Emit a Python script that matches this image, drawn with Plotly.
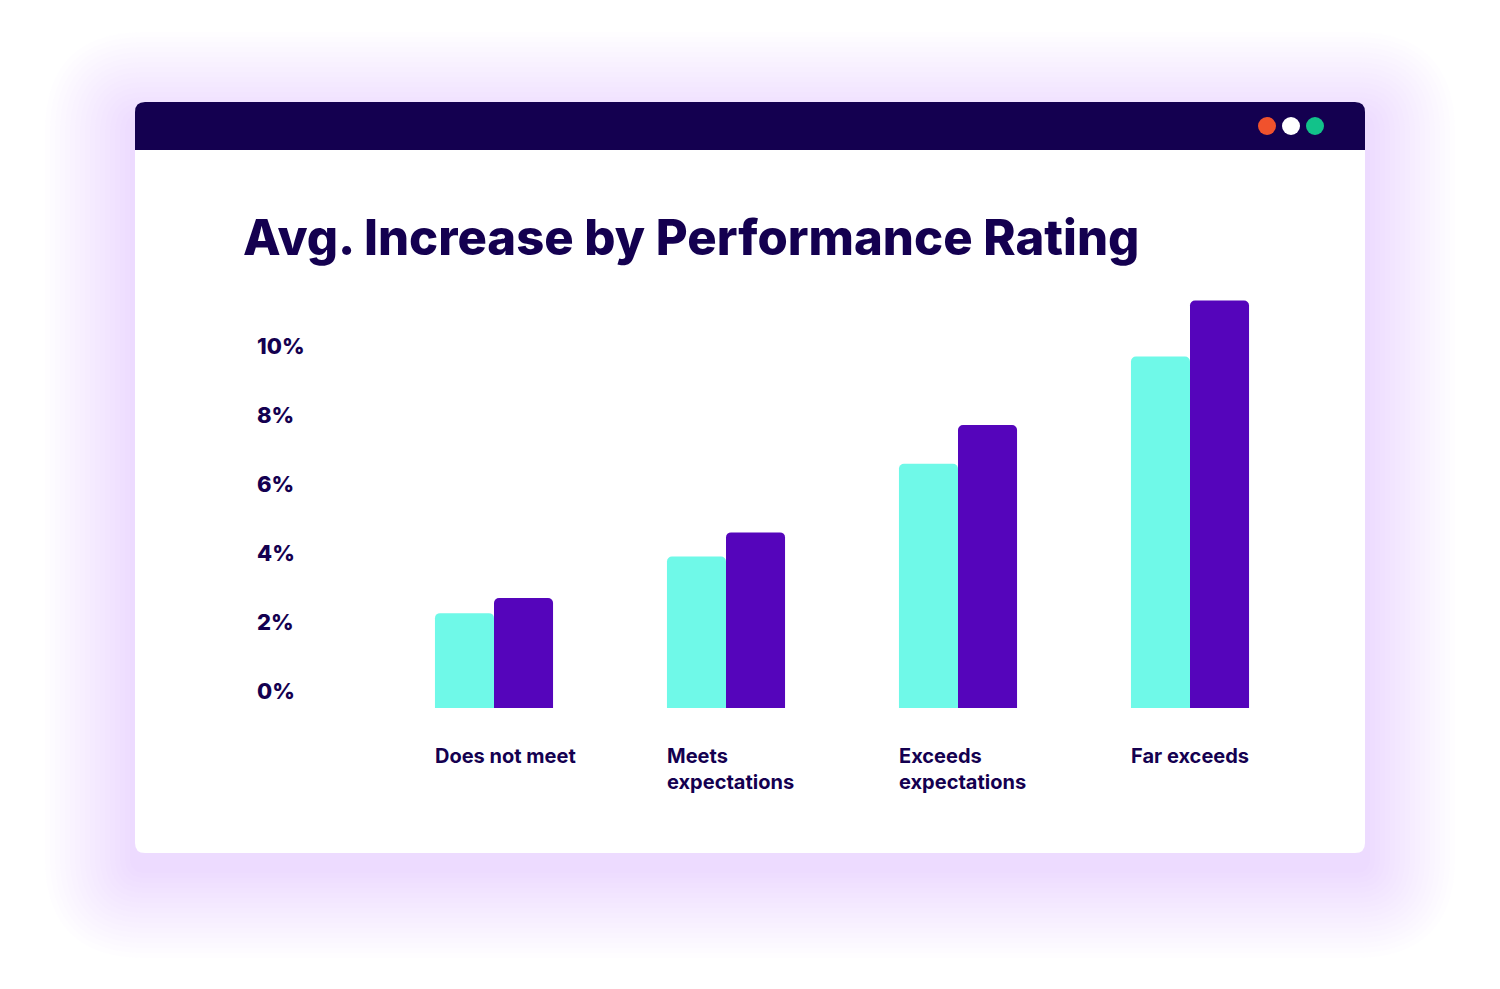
import plotly.graph_objects as go

# ---- data ----
categories = ["Does not meet", "Meets<br>expectations", "Exceeds<br>expectations", "Far exceeds"]
series_a = [2.75, 4.39, 7.08, 10.19]   # cyan
series_b = [3.19, 5.09, 8.20, 11.81]   # purple
tick_vals = [0, 2, 4, 6, 8, 10]
tick_text = ["0%", "2%", "4%", "6%", "8%", "10%"]
title_text = "Avg. Increase by Performance Rating"

# ---- styling ----
W, H = 1500, 989
ML, MR, MT, MB = 254, 194, 290, 281
NAVY = "#140050"
CYAN = "#6ff9e8"
PURPLE = "#5505bb"
FONT = "Inter"

PW = W - ML - MR
PH = H - MT - MB


def px(x):
    return (x - ML) / PW


def py(y):
    return 1 - (y - MT) / PH


def rrect(x0, y0, x1, y1, r, top_only=False):
    a0, a1 = px(x0), px(x1)
    b0, b1 = py(y0), py(y1)
    rx = r / PW
    ry = r / PH
    if top_only:
        return (f"M{a0},{b1} L{a0},{b0 - ry} Q{a0},{b0} {a0 + rx},{b0} "
                f"L{a1 - rx},{b0} Q{a1},{b0} {a1},{b0 - ry} L{a1},{b1} Z")
    return (f"M{a0 + rx},{b0} L{a1 - rx},{b0} Q{a1},{b0} {a1},{b0 - ry} "
            f"L{a1},{b1 + ry} Q{a1},{b1} {a1 - rx},{b1} L{a0 + rx},{b1} "
            f"Q{a0},{b1} {a0},{b1 + ry} L{a0},{b0 - ry} Q{a0},{b0} {a0 + rx},{b0} Z")


shapes = []
# soft shadow around the card
n = 18
for i in range(n, 0, -1):
    g = i * 5
    shapes.append(dict(type="path", xref="paper", yref="paper",
                       path=rrect(135 - g, 102 - g + 20, 1365 + g, 853 + g + 15, 10 + g),
                       fillcolor="#b49ae6", opacity=0.018, line=dict(width=0), layer="below"))
# card
shapes.append(dict(type="path", xref="paper", yref="paper",
                   path=rrect(135, 102, 1365, 853, 10),
                   fillcolor="white", line=dict(width=0), layer="below"))
# header bar
shapes.append(dict(type="path", xref="paper", yref="paper",
                   path=rrect(135, 102, 1365, 150, 10, top_only=True),
                   fillcolor=NAVY, line=dict(width=0), layer="below"))
# window dots
for cx, col in [(1267, "#f0522d"), (1291, "#ffffff"), (1315, "#12c28a")]:
    shapes.append(dict(type="circle", xref="paper", yref="paper",
                       x0=px(cx - 9), x1=px(cx + 9), y0=py(126 + 9), y1=py(126 - 9),
                       fillcolor=col, line=dict(width=0), layer="below"))

fig = go.Figure()
fig.add_trace(go.Bar(x=categories, y=series_a, marker=dict(color=CYAN, line=dict(width=0)),
                     name="A", hoverinfo="skip"))
fig.add_trace(go.Bar(x=categories, y=series_b, marker=dict(color=PURPLE, line=dict(width=0)),
                     name="B", hoverinfo="skip"))

a = (ML - 494) / 232
fig.update_layout(
    width=W, height=H,
    margin=dict(l=ML, r=MR, t=MT, b=MB),
    paper_bgcolor="white", plot_bgcolor="rgba(0,0,0,0)",
    showlegend=False,
    barmode="group", bargap=0.491, bargroupgap=0, barcornerradius=5,
    shapes=shapes,
    title=dict(text=title_text, xref="container", yref="container",
               x=243 / W, xanchor="left", y=1 - 238 / H, yanchor="middle",
               font=dict(family=FONT, size=49, color=NAVY, weight=800)),
    xaxis=dict(range=[a, 3.5], showgrid=False, zeroline=False, showline=False,
               ticks="", ticklabelposition="outside right", ticklabelshift=-59,
               ticklabelstandoff=34,
               tickfont=dict(family=FONT, size=20, color=NAVY, weight=700)),
    yaxis=dict(range=[0, PH / 34.5], showgrid=False, zeroline=False, showline=False,
               tickvals=tick_vals, ticktext=tick_text, ticks="",
               ticklabelposition="inside", ticklabelshift=-17,
               tickfont=dict(family=FONT, size=22, color=NAVY, weight=800)),
)

fig.write_html("out.html", config={"displayModeBar": False},
               post_script="document.body.style.margin='0';")
